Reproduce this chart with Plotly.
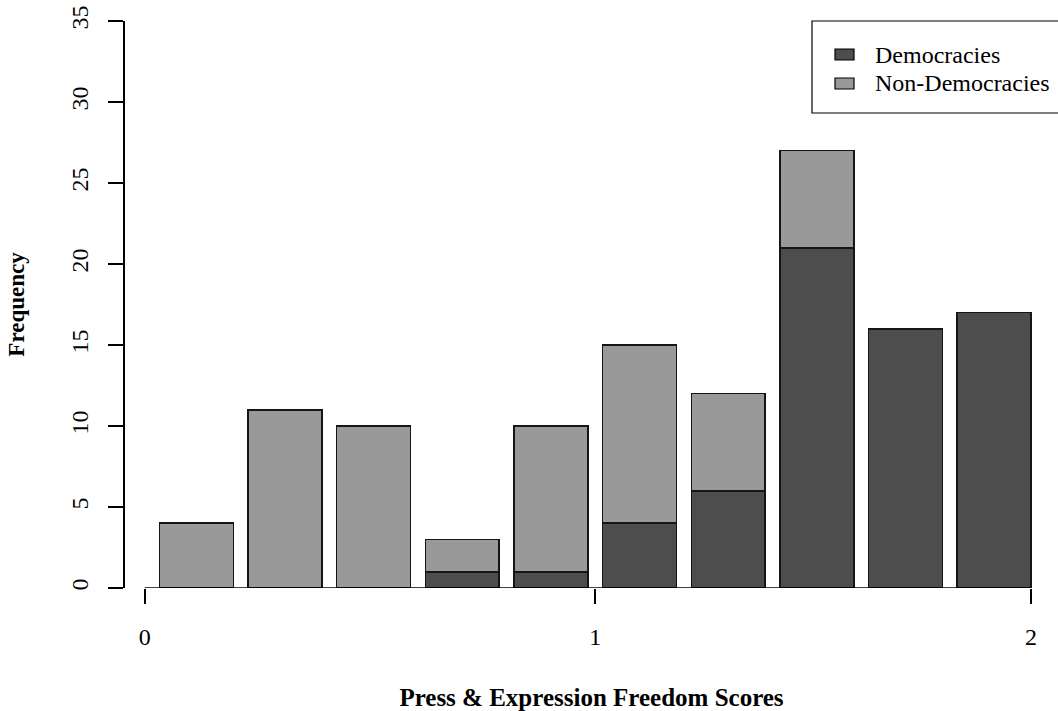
import plotly.graph_objects as go

# Stacked frequency counts per score bin
bin_index = list(range(10))
democracies = [0, 0, 0, 1, 1, 4, 6, 21, 16, 17]
non_democracies = [4, 11, 10, 2, 9, 11, 6, 6, 0, 0]
series_names = ["Democracies", "Non-Democracies"]
series_colors = ["#4d4d4d", "#999999"]

# Score axis ticks (bar-position units) and their labels
score_tick_pos = [0, 6.1, 12]
score_labels = ["0", "1", "2"]
freq_ticks = [0, 5, 10, 15, 20, 25, 30, 35]

W, H = 1058, 711
L, R, T, B = 125, 0, 21, 123
PW, PH = W - L - R, H - T - B
FONT = "Liberation Serif"

bar_width = 1.0
bar_space = 0.2
centers = [bar_space + i * (bar_width + bar_space) + bar_width / 2 for i in bin_index]

# x-range such that the plot region starts slightly left of 0
px_per_unit = 73.86
x_left = -(144.7 - L) / px_per_unit
x_right = x_left + PW / px_per_unit


def px_x(px):
    return (px - L) / PW


def px_y(py):
    return (H - B - py) / PH


border = dict(color="#151515", width=1.5)

fig = go.Figure()
for name, vals, col in zip(series_names, [democracies, non_democracies], series_colors):
    fig.add_trace(go.Bar(
        x=centers, y=vals, width=bar_width, name=name,
        marker=dict(color=col, line=border), showlegend=False,
    ))

# x-axis line spans only from the first to the last tick
fig.add_shape(type="line", xref="x", yref="y",
              x0=score_tick_pos[0], x1=score_tick_pos[-1], y0=0, y1=0,
              line=dict(color="black", width=1.5), layer="above")

# Legend box with keys
fig.add_shape(type="rect", xref="paper", yref="paper",
              x0=px_x(812), x1=px_x(1080), y0=px_y(113), y1=px_y(21),
              line=dict(color="black", width=1.2), fillcolor="white", layer="above")
key_rows = [54.5, 83.5]
for name, col, cy in zip(series_names, series_colors, key_rows):
    fig.add_shape(type="rect", xref="paper", yref="paper",
                  x0=px_x(835), x1=px_x(854), y0=px_y(cy + 5.5), y1=px_y(cy - 5.5),
                  line=dict(color="black", width=1.2), fillcolor=col, layer="above")
    fig.add_annotation(xref="paper", yref="paper", x=px_x(873), y=px_y(cy),
                       text=name, showarrow=False, xanchor="left", yanchor="middle",
                       font=dict(family=FONT, size=24, color="black"))

fig.update_layout(
    width=W, height=H,
    margin=dict(l=L, r=R, t=T, b=B, pad=0),
    paper_bgcolor="white", plot_bgcolor="white",
    barmode="stack",
    showlegend=False,
    font=dict(family=FONT, color="black"),
    xaxis=dict(
        range=[x_left, x_right], showgrid=False, zeroline=False, showline=False,
        tickmode="array", tickvals=score_tick_pos, ticktext=score_labels,
        ticks="outside", ticklen=15, tickwidth=1.5, tickcolor="black",
        ticklabelstandoff=12,
        tickfont=dict(family=FONT, size=24, color="black"),
        title=dict(text="<b>Press & Expression Freedom Scores</b>", standoff=40,
                   font=dict(family=FONT, size=25, color="black")),
    ),
    yaxis=dict(
        range=[0, 35], showgrid=False, zeroline=False,
        showline=True, linecolor="black", linewidth=1.5,
        tickmode="array", tickvals=freq_ticks, ticktext=[str(v) for v in freq_ticks],
        ticks="outside", ticklen=15, tickwidth=1.5, tickcolor="black", tickangle=-90,
        ticklabelstandoff=11,
        tickfont=dict(family=FONT, size=24, color="black"),
        title=dict(text="<b>Frequency</b>", standoff=36,
                   font=dict(family=FONT, size=23, color="black")),
    ),
)

fig.write_html("out.html")
